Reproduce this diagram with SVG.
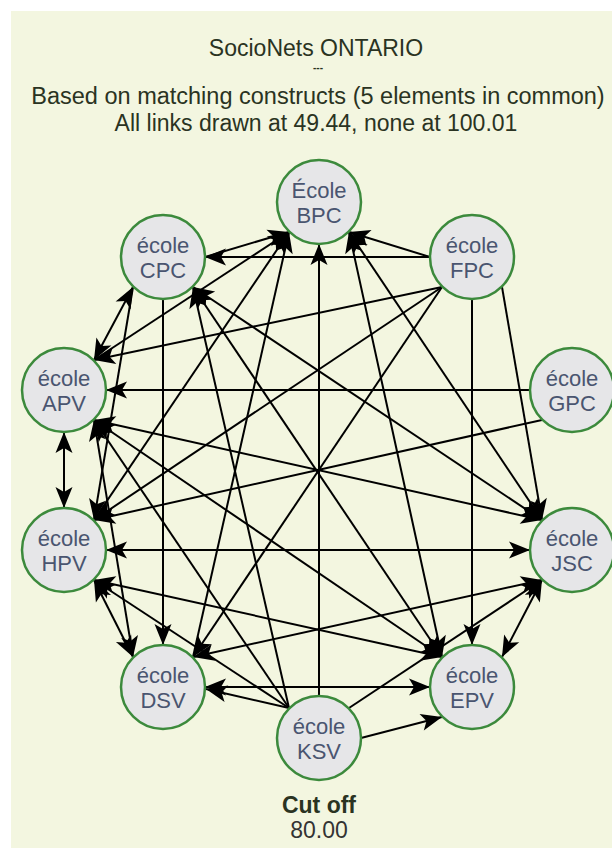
<svg xmlns="http://www.w3.org/2000/svg" width="612" height="861" viewBox="0 0 612 861">
<defs>
<marker id="a" viewBox="-23 -9 24 18" refX="0" refY="0" markerWidth="24" markerHeight="18" markerUnits="userSpaceOnUse" orient="auto-start-reverse"><path d="M0,0 L-21,-8.5 L-16,0 L-21,8.5 Z" fill="#000"/></marker>
<style>
.bg{fill:#F3F6E0}
.e{stroke:#000;stroke-width:2;fill:none}
.n{fill:#E6E6E8;stroke:#3C8A3C;stroke-width:2.5}
.t{font-family:"Liberation Sans",Arial,sans-serif;font-size:22px;fill:#4A5570;text-anchor:middle}
.h{font-family:"Liberation Sans",Arial,sans-serif;font-size:23px;fill:#2A3322;text-anchor:middle}
.end{marker-end:url(#a)}
.both{marker-start:url(#a);marker-end:url(#a)}
</style>
</defs>
<rect x="0" y="0" width="612" height="861" fill="#FFFFFF"/>
<rect class="bg" x="11" y="11" width="601" height="837"/>
<g id="header">
<text class="h" x="316" y="56">SocioNets ONTARIO</text>
<text class="h" x="318" y="71" style="font-size:10px;font-weight:bold">---</text>
<text class="h" x="318" y="104" style="font-size:23.5px">Based on matching constructs (5 elements in common)</text>
<text class="h" x="316" y="131">All links drawn at 49.44, none at 100.01</text>
</g>
<g id="connectors">
<line class="e end" x1="430" y1="257" x2="205" y2="257"/>
<line class="e end" x1="205" y1="257" x2="289" y2="232"/>
<line class="e end" x1="430" y1="257" x2="349" y2="232"/>
<line class="e end" x1="319" y1="696" x2="319" y2="244"/>
<line class="e end" x1="163" y1="299" x2="163" y2="645"/>
<line class="e end" x1="472" y1="299" x2="472" y2="645"/>
<line class="e end" x1="502" y1="287" x2="542" y2="520"/>
<line class="e end" x1="442" y1="287" x2="94" y2="360"/>
<line class="e end" x1="442" y1="287" x2="94" y2="520"/>
<line class="e end" x1="442" y1="287" x2="193" y2="657"/>
<line class="e end" x1="530" y1="390" x2="106" y2="390"/>
<line class="e end" x1="542" y1="420" x2="94" y2="520"/>
<line class="e both" x1="64" y1="432" x2="64" y2="508"/>
<line class="e both" x1="133" y1="287" x2="94" y2="360"/>
<line class="e both" x1="106" y1="550" x2="530" y2="550"/>
<line class="e both" x1="205" y1="687" x2="430" y2="687"/>
<line class="e end" x1="361" y1="738" x2="442" y2="717"/>
<line class="e end" x1="349" y1="708" x2="542" y2="580"/>
<line class="e end" x1="289" y1="708" x2="193" y2="287"/>
<line class="e end" x1="289" y1="708" x2="94" y2="420"/>
<line class="e end" x1="289" y1="708" x2="94" y2="580"/>
<line class="e end" x1="289" y1="708" x2="206" y2="689"/>
<line class="e end" x1="94" y1="360" x2="289" y2="232"/>
<line class="e end" x1="94" y1="520" x2="289" y2="232"/>
<line class="e end" x1="193" y1="657" x2="289" y2="232"/>
<line class="e both" x1="542" y1="520" x2="349" y2="232"/>
<line class="e both" x1="442" y1="657" x2="349" y2="232"/>
<line class="e both" x1="94" y1="420" x2="542" y2="520"/>
<line class="e both" x1="193" y1="287" x2="442" y2="657"/>
<line class="e both" x1="94" y1="580" x2="133" y2="657"/>
<line class="e both" x1="542" y1="580" x2="502" y2="657"/>
<line class="e both" x1="94" y1="420" x2="133" y2="657"/>
<line class="e both" x1="94" y1="420" x2="442" y2="657"/>
<line class="e both" x1="94" y1="580" x2="442" y2="657"/>
<line class="e both" x1="193" y1="657" x2="542" y2="580"/>
<line class="e both" x1="193" y1="287" x2="542" y2="520"/>
<line class="e end" x1="133" y1="287" x2="94" y2="520"/>
</g>
<g id="node-BPC"><circle class="n" cx="319" cy="202" r="42"/><text class="t" x="319" y="198">École</text><text class="t" x="319" y="223">BPC</text></g>
<g id="node-CPC"><circle class="n" cx="163" cy="257" r="42"/><text class="t" x="163" y="253">école</text><text class="t" x="163" y="278">CPC</text></g>
<g id="node-FPC"><circle class="n" cx="472" cy="257" r="42"/><text class="t" x="472" y="253">école</text><text class="t" x="472" y="278">FPC</text></g>
<g id="node-APV"><circle class="n" cx="64" cy="390" r="42"/><text class="t" x="64" y="386">école</text><text class="t" x="64" y="411">APV</text></g>
<g id="node-GPC"><circle class="n" cx="572" cy="390" r="42"/><text class="t" x="572" y="386">école</text><text class="t" x="572" y="411">GPC</text></g>
<g id="node-HPV"><circle class="n" cx="64" cy="550" r="42"/><text class="t" x="64" y="546">école</text><text class="t" x="64" y="571">HPV</text></g>
<g id="node-JSC"><circle class="n" cx="572" cy="550" r="42"/><text class="t" x="572" y="546">école</text><text class="t" x="572" y="571">JSC</text></g>
<g id="node-DSV"><circle class="n" cx="163" cy="687" r="42"/><text class="t" x="163" y="683">école</text><text class="t" x="163" y="708">DSV</text></g>
<g id="node-EPV"><circle class="n" cx="472" cy="687" r="42"/><text class="t" x="472" y="683">école</text><text class="t" x="472" y="708">EPV</text></g>
<g id="node-KSV"><circle class="n" cx="319" cy="738" r="42"/><text class="t" x="319" y="734">école</text><text class="t" x="319" y="759">KSV</text></g>
<g id="footer">
<text class="h" x="319" y="813" style="font-weight:bold">Cut off</text>
<text class="h" x="319" y="838" style="fill:#333">80.00</text>
</g>
</svg>
